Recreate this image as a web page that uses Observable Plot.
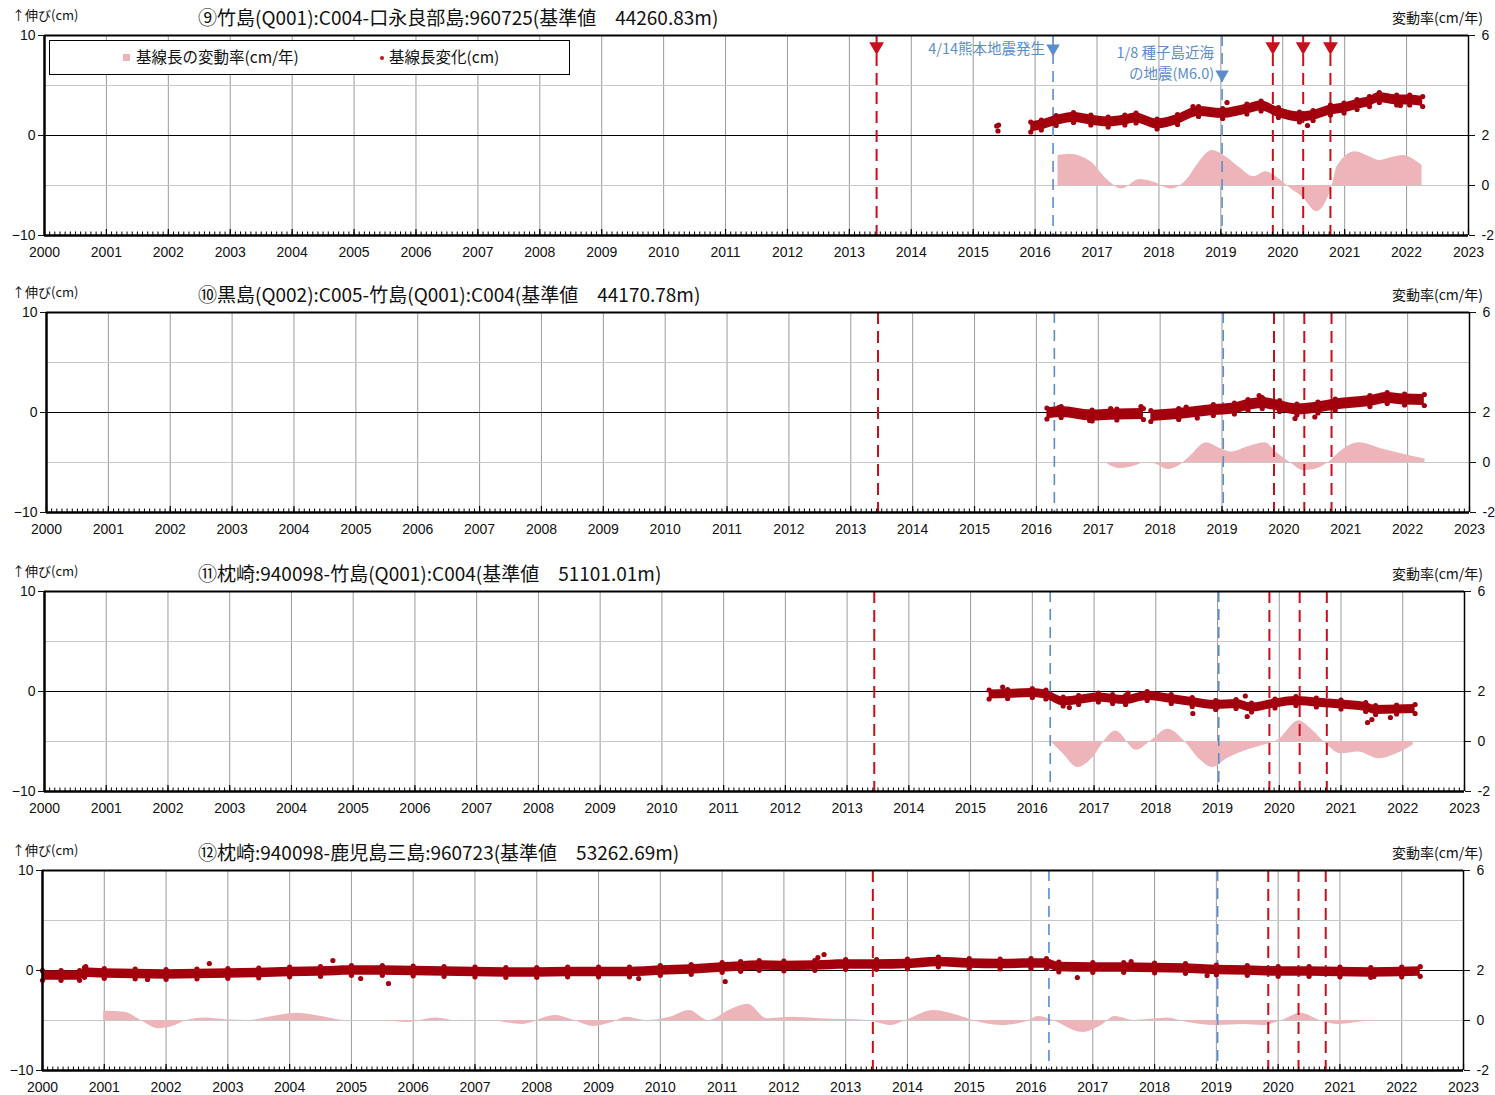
<!DOCTYPE html>
<html><head><meta charset="utf-8">
<script src="https://cdn.jsdelivr.net/npm/d3@7"></script>
<script src="https://cdn.jsdelivr.net/npm/@observablehq/plot@0.6"></script>
<style>
body{margin:0;background:#fff;width:1495px;height:1095px;position:relative;overflow:hidden;font-family:"Noto Sans CJK JP",sans-serif;}
.panel{position:absolute;left:0;}
.lbl{position:absolute;white-space:nowrap;color:#111;line-height:1;}
.title{font-size:19px;}
.yl{font-size:13px;}
.yr{font-size:14px;}
.legend{position:absolute;background:#fff;border:1.5px solid #000;box-sizing:border-box;}
</style></head><body>
<div id="root"></div>
<script>
// ---------- data ----------
const years = d3.range(2000, 2024);
const redEvents = [2013.44, 2019.84, 2020.33, 2020.77];
const blueEvents = [2016.29, 2019.02];
const leftTicks = [-10, 0, 10];
const rateTickLabels = [6, 2, 0, -2];
const titles = [
  "⑨竹島(Q001):C004-口永良部島:960725(基準値　44260.83m)",
  "⑩黒島(Q002):C005-竹島(Q001):C004(基準値　44170.78m)",
  "⑪枕崎:940098-竹島(Q001):C004(基準値　51101.01m)",
  "⑫枕崎:940098-鹿児島三島:960723(基準値　53262.69m)"
];
const legendLabels = ["基線長の変動率(cm/年)", "基線長変化(cm)"];
const quakeLabels = ["4/14熊本地震発生", "1/8 種子島近海", "の地震(M6.0)"];

// panel 9
const p1Time   = [2015.93, 2016.1, 2016.34, 2016.62, 2016.9, 2017.18, 2017.45, 2017.63, 2017.97, 2018.3, 2018.64, 2019.03, 2019.42, 2019.65, 2019.93, 2020.27, 2020.49, 2020.77, 2020.99, 2021.2, 2021.4, 2021.56, 2021.84, 2022.05, 2022.26];
const p1Change = [0.85, 1.05, 1.5, 1.8, 1.55, 1.35, 1.55, 1.75, 1.15, 1.6, 2.4, 2.2, 2.65, 2.95, 2.3, 1.85, 2.0, 2.55, 2.75, 3.1, 3.4, 3.8, 3.55, 3.55, 3.4];
const p1Seg    = p1Time.map(() => 0);
const p1Spread = 0.5;
const p1OutT = [2015.38, 2015.41, 2015.40, 2019.1, 2020.4, 2021.9, 2018.55];
const p1OutV = [0.95, 1.05, 0.45, 3.3, 1.0, 3.0, 2.9];
const p1RateT = [2016.37, 2016.56, 2016.9, 2017.18, 2017.4, 2017.69, 2017.91, 2018.2, 2018.47, 2018.64, 2018.86, 2019.08, 2019.31, 2019.53, 2019.73, 2019.93, 2020.1, 2020.33, 2020.55, 2020.66, 2020.8, 2020.88, 2021.17, 2021.4, 2021.56, 2021.73, 2021.95, 2022.17, 2022.25];
const p1Rate  = [1.2, 1.25, 0.95, 0.2, -0.14, 0.24, 0.14, -0.14, 0.28, 0.9, 1.4, 1.15, 0.7, 0.35, 0.55, 0.28, -0.07, -0.49, -1.05, -0.83, 0, 0.76, 1.35, 1.15, 1.0, 1.1, 1.2, 0.95, 0.8];

// panel 10
const p2Time   = [2016.17, 2016.4, 2016.9, 2017.3, 2017.73, 2017.85, 2018.3, 2018.86, 2019.2, 2019.42, 2019.65, 2019.93, 2020.21, 2020.55, 2020.83, 2021.39, 2021.67, 2021.95, 2022.27];
const p2Change = [-0.1, 0.05, -0.3, -0.2, -0.15, -0.35, -0.15, 0.25, 0.4, 0.75, 0.95, 0.65, 0.3, 0.5, 0.8, 1.15, 1.45, 1.3, 1.25];
const p2Seg    = [0, 0, 0, 0, 0, 1, 1, 1, 1, 1, 1, 1, 1, 1, 1, 1, 1, 1, 1];
const p2Spread = 0.55;
const p2OutT = [2016.36, 2016.86, 2017.69, 2018.6, 2018.42, 2019.6, 2020.18, 2020.5, 2017.2];
const p2OutV = [0.5, -0.8, 0.6, -0.55, 0.55, 1.7, -0.6, -0.45, 0.4];
const p2RateT = [2017.15, 2017.35, 2017.71, 2017.72, 2017.9, 2018.13, 2018.3, 2018.47, 2018.75, 2018.97, 2019.15, 2019.42, 2019.7, 2019.87, 2020.1, 2020.32, 2020.49, 2020.72, 2020.94, 2021.22, 2021.56, 2021.9, 2022.28];
const p2Rate  = [-0.07, -0.24, -0.02, 0, -0.04, -0.28, -0.14, 0.21, 0.79, 0.56, 0.42, 0.63, 0.79, 0.42, 0, -0.32, -0.28, 0, 0.49, 0.79, 0.56, 0.35, 0.14];

// panel 11
const p3Time   = [2015.3, 2015.6, 2016.0, 2016.22, 2016.5, 2016.75, 2017.07, 2017.3, 2017.51, 2017.86, 2018.25, 2018.59, 2018.97, 2019.3, 2019.55, 2019.93, 2020.27, 2020.6, 2021.0, 2021.4, 2021.56, 2021.9, 2022.2];
const p3Change = [-0.3, -0.25, -0.15, -0.3, -1.0, -0.85, -0.6, -0.75, -0.85, -0.45, -0.75, -1.05, -1.35, -1.25, -1.6, -1.2, -0.95, -1.1, -1.3, -1.55, -1.85, -1.8, -1.75];
const p3Seg    = p3Time.map(() => 0);
const p3Spread = 0.45;
const p3OutT = [2015.52, 2018.6, 2019.48, 2021.43, 2021.5, 2021.8, 2017.55, 2019.45, 2016.6];
const p3OutV = [0.45, -2.2, -2.5, -3.1, -2.8, -2.6, -0.15, -0.45, -1.6];
const p3RateT = [2016.3, 2016.5, 2016.73, 2017.01, 2017.18, 2017.35, 2017.69, 2017.91, 2018.2, 2018.47, 2018.7, 2018.92, 2019.15, 2019.48, 2019.76, 2019.99, 2020.32, 2020.49, 2020.72, 2021.0, 2021.28, 2021.62, 2021.9, 2022.17];
const p3Rate  = [0, -0.49, -1.04, -0.56, 0.07, 0.42, -0.35, 0, 0.49, 0, -0.69, -1.04, -0.69, -0.35, -0.14, 0.07, 0.83, 0.56, 0, -0.49, -0.42, -0.69, -0.49, -0.14];

// panel 12
const p4Time   = [2000.0, 2000.3, 2000.6, 2000.68, 2001.0, 2001.5, 2002.0, 2002.5, 2003.0, 2003.5, 2004.0, 2004.5, 2005.0, 2005.5, 2006.0, 2006.5, 2007.0, 2007.5, 2008.0, 2008.5, 2009.0, 2009.5, 2010.0, 2010.5, 2011.0, 2011.3, 2011.6, 2012.0, 2012.5, 2013.0, 2013.5, 2014.0, 2014.5, 2015.0, 2015.5, 2016.0, 2016.25, 2016.45, 2017.0, 2017.5, 2018.0, 2018.5, 2019.0, 2019.5, 2020.0, 2020.5, 2021.0, 2021.5, 2022.0, 2022.3];
const p4Change = [-0.5, -0.5, -0.5, -0.2, -0.3, -0.35, -0.4, -0.35, -0.3, -0.25, -0.15, -0.1, 0.0, 0.0, -0.05, -0.1, -0.15, -0.2, -0.2, -0.15, -0.15, -0.15, 0.0, 0.1, 0.3, 0.4, 0.5, 0.45, 0.5, 0.6, 0.6, 0.65, 0.85, 0.7, 0.65, 0.7, 0.7, 0.35, 0.3, 0.3, 0.25, 0.2, 0.05, 0.0, -0.1, -0.1, -0.15, -0.2, -0.15, -0.1];
const p4Seg    = p4Time.map(() => 0);
const p4Spread = 0.48;
const p4OutT = [2000.7, 2002.7, 2004.7, 2005.15, 2005.6, 2011.05, 2012.65, 2012.55, 2014.4, 2016.75, 2017.62, 2018.85, 2021.55, 2009.65, 2001.7];
const p4OutV = [0.4, 0.7, 1.0, -0.8, -1.3, -1.1, 1.6, 1.3, 1.1, -0.7, 0.9, -0.5, -0.6, -0.8, -0.9];
const p4RateT = [2000.99, 2001.33, 2001.64, 2001.87, 2002.1, 2002.34, 2002.65, 2002.96, 2003.35, 2003.66, 2004.12, 2004.58, 2004.9, 2005.52, 2005.9, 2006.37, 2006.75, 2007.22, 2007.76, 2008.3, 2008.61, 2008.92, 2009.23, 2009.46, 2009.77, 2010.16, 2010.47, 2010.78, 2011.17, 2011.42, 2011.73, 2012.12, 2012.58, 2012.97, 2013.35, 2013.74, 2013.97, 2014.43, 2014.82, 2015.06, 2015.52, 2015.9, 2016.13, 2016.36, 2016.83, 2017.14, 2017.36, 2017.67, 2018.21, 2018.52, 2018.99, 2019.45, 2019.75, 2020.06, 2020.37, 2020.68, 2020.98, 2021.45, 2022.07];
const p4Rate  = [0.37, 0.33, -0.07, -0.33, -0.24, 0, 0.1, 0.03, 0, 0.13, 0.29, 0.13, 0, 0, -0.08, 0.1, -0.03, 0, -0.16, 0.2, 0, -0.24, -0.07, 0.13, 0, 0.13, 0.4, 0, 0.47, 0.65, 0.07, 0.13, 0.07, 0.04, 0, -0.2, 0, 0.4, 0.2, 0, -0.2, -0.07, 0.16, 0, -0.48, -0.2, 0.16, 0, 0.1, -0.07, -0.2, -0.16, -0.2, 0, 0.29, 0, -0.16, -0.03, 0];

// ---------- layout ----------
const panels = [
  {top: 0,   ml: 44, mr: 27, time: p1Time, change: p1Change, seg: p1Seg, spread: p1Spread, outT: p1OutT, outV: p1OutV, rateT: p1RateT, rate: p1Rate, notes: true},
  {top: 277, ml: 46, mr: 26, time: p2Time, change: p2Change, seg: p2Seg, spread: p2Spread, outT: p2OutT, outV: p2OutV, rateT: p2RateT, rate: p2Rate},
  {top: 556, ml: 44, mr: 31, time: p3Time, change: p3Change, seg: p3Seg, spread: p3Spread, outT: p3OutT, outV: p3OutV, rateT: p3RateT, rate: p3Rate},
  {top: 835, ml: 42, mr: 32, time: p4Time, change: p4Change, seg: p4Seg, spread: p4Spread, outT: p4OutT, outV: p4OutV, rateT: p4RateT, rate: p4Rate}
];

// rate (cm/年) axis shares the frame: 6 at top, 2 at the zero line, -2 at bottom
const cmOfRate = r => (r - 2) * 2.5;
const months = d3.range(0, 23 * 12 + 1).map(i => 2000 + i / 12);
const RED = "#c8101c", BLUE = "#5b8ccc", DOT = "#a3000e", PINK = "#edb5ba";

const root = document.getElementById("root");

panels.forEach((p, k) => {
  const band = p.time.map((t, i) => ({t, v: p.change[i], s: p.seg[i]}));
  const out = p.outT.map((t, i) => ({t, v: p.outV[i]}));
  const rate = p.rateT.map((t, i) => ({t, r: p.rate[i]}));
  const rateTicks = rateTickLabels.map(cmOfRate);
  const marks = [
    Plot.ruleX(years.slice(1, -1), {stroke: "#9a9a9a", strokeWidth: 1}),
    Plot.ruleY([-5, 5], {stroke: "#c8c8c8", strokeWidth: 1}),
    Plot.areaY(rate, {x: "t", y1: cmOfRate(0), y2: d => cmOfRate(d.r), fill: PINK, curve: "monotone-x"}),
    Plot.ruleY([0], {stroke: "#000", strokeWidth: 1.2}),
    Plot.ruleX(blueEvents, {stroke: BLUE, strokeWidth: 1.6, strokeDasharray: "11,7"}),
    Plot.ruleX(redEvents, {stroke: RED, strokeWidth: 2, strokeDasharray: "12,7"}),
    Plot.areaY(band, {x: "t", y1: d => d.v - p.spread, y2: d => d.v + p.spread, z: "s", fill: DOT, curve: "monotone-x"}),
    Plot.dot(band, {x: "t", y: d => d.v + p.spread, r: 2.6, fill: DOT}),
    Plot.dot(band, {x: "t", y: d => d.v - p.spread, r: 2.6, fill: DOT}),
    Plot.dot(out, {x: "t", y: "v", r: 2.6, fill: DOT}),
    // frame
    Plot.ruleY([10], {stroke: "#000", strokeWidth: 2}),
    Plot.ruleX([2000], {stroke: "#000", strokeWidth: 2.5}),
    Plot.ruleX([2023], {stroke: "#000", strokeWidth: 1.5}),
    Plot.ruleY([-10], {stroke: "#000", strokeWidth: 2.5}),
    Plot.ruleX(months, {x: d => d, y1: -10, y2: -9.65, stroke: "#000", strokeWidth: 1}),
    Plot.ruleX(years, {x: d => d, y1: -10, y2: -9.4, stroke: "#000", strokeWidth: 1.2}),
    // axes
    Plot.axisX({ticks: years, tickFormat: d => String(d), tickSize: 0, tickPadding: 12, fontSize: 14, label: null}),
    Plot.axisY({anchor: "left", ticks: leftTicks, tickSize: 6, tickPadding: 3, fontSize: 14, label: null}),
    Plot.axisY({anchor: "right", ticks: rateTicks, tickSize: 6, tickPadding: 7, fontSize: 14, label: null,
      tickFormat: d => String(rateTickLabels[rateTicks.indexOf(d)])})
  ];
  if (p.notes) {
    marks.push(
      Plot.dot(redEvents, {x: d => d, y: 8.9, symbol: "triangle", rotate: 180, r: 5.5, fill: RED}),
      Plot.dot([{t: blueEvents[0], v: 8.7}, {t: blueEvents[1], v: 6.1}], {x: "t", y: "v", symbol: "triangle", rotate: 180, r: 5, fill: BLUE}),
      Plot.text([{t: blueEvents[0], v: 8.65, s: quakeLabels[0]}, {t: blueEvents[1], v: 8.2, s: quakeLabels[1]}, {t: blueEvents[1], v: 6.1, s: quakeLabels[2]}],
        {x: "t", y: "v", text: "s", textAnchor: "end", dx: -8, fill: BLUE, fontSize: 14.5, fontFamily: "'Noto Sans CJK JP', sans-serif"})
    );
  }
  const chart = Plot.plot({
    width: 1495, height: 278,
    marginTop: 35, marginBottom: 43, marginLeft: p.ml, marginRight: p.mr,
    x: {domain: [2000, 2023], axis: null},
    y: {domain: [-10, 10], axis: null},
    style: {fontFamily: "'Liberation Sans', 'Noto Sans CJK JP', sans-serif", fontSize: "14px", color: "#111", background: "transparent", overflow: "visible"},
    marks
  });
  const wrap = document.createElement("div");
  wrap.className = "panel";
  wrap.style.top = p.top + "px";
  wrap.appendChild(chart);
  root.appendChild(wrap);

  const add = (cls, text, x, y) => {
    const d = document.createElement("div");
    d.className = "lbl " + cls;
    d.textContent = text;
    d.style.left = x + "px";
    d.style.top = (p.top + y) + "px";
    root.appendChild(d);
    return d;
  };
  add("title", titles[k], 198, 7);
  add("yl", "↑伸び(cm)", 12, 8);
  add("yr", "変動率(cm/年)", 1392, 10);
});

// legend (panel 9)
const lg = document.createElement("div");
lg.className = "legend";
Object.assign(lg.style, {left: "49px", top: "40px", width: "521px", height: "35px"});
lg.innerHTML =
  `<span style="position:absolute;left:73px;top:13px;width:7px;height:7px;background:${PINK}"></span>` +
  `<span class="lbl" style="left:86px;top:8px;font-size:15.5px">${legendLabels[0]}</span>` +
  `<span style="position:absolute;left:330px;top:15px;width:4px;height:4px;border-radius:2px;background:${RED}"></span>` +
  `<span class="lbl" style="left:339px;top:8px;font-size:15.5px">${legendLabels[1]}</span>`;
root.appendChild(lg);
</script>
</body></html>
